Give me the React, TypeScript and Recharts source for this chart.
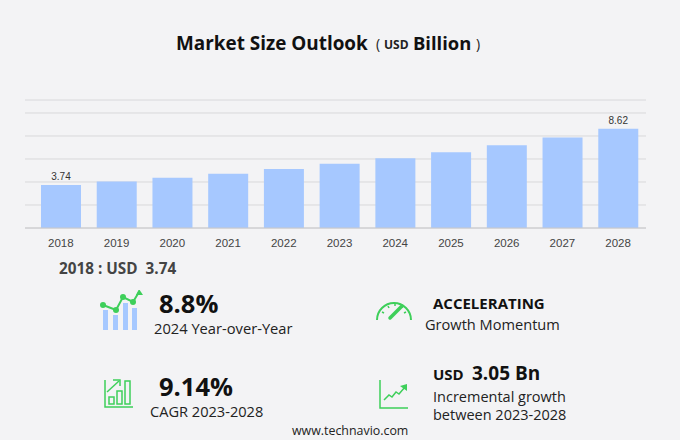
import { BarChart, Bar, XAxis, YAxis, CartesianGrid, LabelList } from 'recharts'

const years = ['2018', '2019', '2020', '2021', '2022', '2023', '2024', '2025', '2026', '2027', '2028']
const marketSize = [3.74, 4.05, 4.37, 4.72, 5.13, 5.58, 6.06, 6.58, 7.2, 7.87, 8.62]
const barLabels = ['3.74', null, null, null, null, null, null, null, null, null, '8.62']
const gridValues = [0, 2, 4, 6, 8, 10, 11.13]

const chartData = years.map((year, i) => ({ year, value: marketSize[i], label: barLabels[i] }))

const BG = '#f3f3f5'
const GREEN = '#3ecf5a'
const BLUE = '#a6c8ff'
const FONT = '"Open Sans", "Noto Sans", sans-serif'

const Txt = ({ x, y, size, bold, color = '#222', children }: any) => (
    <div
        style={{
            position: 'absolute',
            left: x,
            top: y,
            transform: 'translateY(-50%)',
            fontFamily: FONT,
            fontSize: size,
            fontWeight: bold ? 700 : 400,
            color,
            whiteSpace: 'pre',
            lineHeight: 1,
        }}
    >
        {children}
    </div>
)

const Icon = ({ x, y, w, h, children }: any) => (
    <svg
        width={w}
        height={h}
        viewBox={`0 0 ${w} ${h}`}
        style={{ position: 'absolute', left: x, top: y }}
        fill="none"
    >
        {children}
    </svg>
)

const App = () => (
    <div style={{ position: 'absolute', left: 0, top: 0, width: 680, height: 440, background: BG, overflow: 'hidden' }}>
        <BarChart
            width={680}
            height={440}
            data={chartData}
            margin={{ top: 100, right: 34, left: 25, bottom: 182 }}
        >
            <CartesianGrid vertical={false} stroke="#d8d8db" />
            <XAxis
                dataKey="year"
                height={30}
                interval={0}
                padding={{ left: 8, right: 0 }}
                axisLine={{ stroke: '#c8c8ca' }}
                tickLine={false}
                tickMargin={5}
                tick={{ fontSize: 11.5, fill: '#444', fontFamily: '"Liberation Sans", Arial, sans-serif' }}
            />
            <YAxis hide domain={[0, 11.13]} ticks={gridValues} interval={0} />
            <Bar dataKey="value" fill={BLUE} barSize={40} isAnimationActive={false}>
                <LabelList
                    dataKey="label"
                    position="top"
                    offset={5}
                    style={{ fontSize: 10, fill: '#333', fontFamily: '"Liberation Sans", Arial, sans-serif' }}
                />
            </Bar>
        </BarChart>

        <Txt x={176} y={43} size={18.9} bold color="#111">Market Size Outlook</Txt>
        <Txt x={376} y={44} size={14} color="#222">(</Txt>
        <Txt x={384} y={45} size={12} bold color="#222">USD</Txt>
        <Txt x={413} y={43} size={18.4} bold color="#111">Billion</Txt>
        <Txt x={476} y={44} size={14} color="#222">)</Txt>

        <Txt x={59} y={269} size={15.3} bold color="#444">{'2018 : USD  3.74'}</Txt>

        <Txt x={159} y={304} size={25.5} bold color="#111">8.8%</Txt>
        <Txt x={154} y={328} size={14.7}>2024 Year-over-Year</Txt>
        <Txt x={159} y={387} size={25.5} bold color="#111">9.14%</Txt>
        <Txt x={150} y={411} size={14.6}>CAGR 2023-2028</Txt>

        <Txt x={433} y={303} size={15} bold color="#111">ACCELERATING</Txt>
        <Txt x={425} y={324} size={14.6}>Growth Momentum</Txt>
        <Txt x={433} y={374} size={15} bold color="#111">USD</Txt>
        <Txt x={472} y={373} size={19} bold color="#111">3.05 Bn</Txt>
        <Txt x={433} y={397} size={14.5}>Incremental growth</Txt>
        <Txt x={433} y={415} size={14.5}>between 2023-2028</Txt>

        <Txt x={292} y={431} size={12.4}>www.technavio.com</Txt>

        {/* year-over-year icon */}
        <Icon x={98} y={290} w={46} h={42}>
            <rect x="5" y="20" width="5" height="20" fill={BLUE} />
            <rect x="15" y="25" width="5" height="15" fill={BLUE} />
            <rect x="25" y="13" width="5" height="27" fill={BLUE} />
            <rect x="34" y="18" width="5" height="22" fill={BLUE} />
            <polyline points="5,15 18,20 25,7 35,12 41,2" stroke={GREEN} strokeWidth="2" />
            <circle cx="5" cy="15" r="3" fill={GREEN} />
            <circle cx="18" cy="20" r="3" fill={GREEN} />
            <circle cx="25" cy="7" r="3" fill={GREEN} />
            <circle cx="35" cy="12" r="3" fill={GREEN} />
            <polygon points="41,-1 45,5 38,5" fill={GREEN} />
        </Icon>

        {/* CAGR icon */}
        <Icon x={103} y={378} w={32} h={32}>
            <polyline points="2,2 2,29 30,29" stroke={GREEN} strokeWidth="1.5" />
            <rect x="6" y="19" width="5" height="7" stroke={GREEN} strokeWidth="1.5" />
            <rect x="14" y="13" width="5" height="13" stroke={GREEN} strokeWidth="1.5" />
            <rect x="22" y="3" width="5" height="23" stroke={GREEN} strokeWidth="1.5" />
            <polyline points="4,14 16,3" stroke={GREEN} strokeWidth="1.5" />
            <polyline points="10,2 17,2 17,8" stroke={GREEN} strokeWidth="1.5" />
        </Icon>

        {/* gauge icon */}
        <Icon x={375} y={298} w={38} h={26}>
            <path d="M2,22 A17,17 0 0 1 36,22" stroke={GREEN} strokeWidth="2" />
            <line x1="15" y1="20" x2="27" y2="8" stroke={GREEN} strokeWidth="3.5" strokeLinecap="round" />
            <line x1="7" y1="14" x2="9" y2="15" stroke={GREEN} strokeWidth="1.5" />
            <line x1="13" y1="8" x2="14" y2="10" stroke={GREEN} strokeWidth="1.5" />
            <line x1="20" y1="6" x2="20" y2="8" stroke={GREEN} strokeWidth="1.5" />
            <line x1="31" y1="14" x2="29" y2="15" stroke={GREEN} strokeWidth="1.5" />
        </Icon>

        {/* incremental growth icon */}
        <Icon x={378} y={378} w={32} h={32}>
            <polyline points="2,2 2,30 30,30" stroke={GREEN} strokeWidth="1.5" />
            <polyline points="6,22 11,17 14,19 18,14 21,16 27,9" stroke={GREEN} strokeWidth="1.5" />
            <polygon points="29,6 29,13 22,8" fill={GREEN} />
        </Icon>
    </div>
)

export default App
